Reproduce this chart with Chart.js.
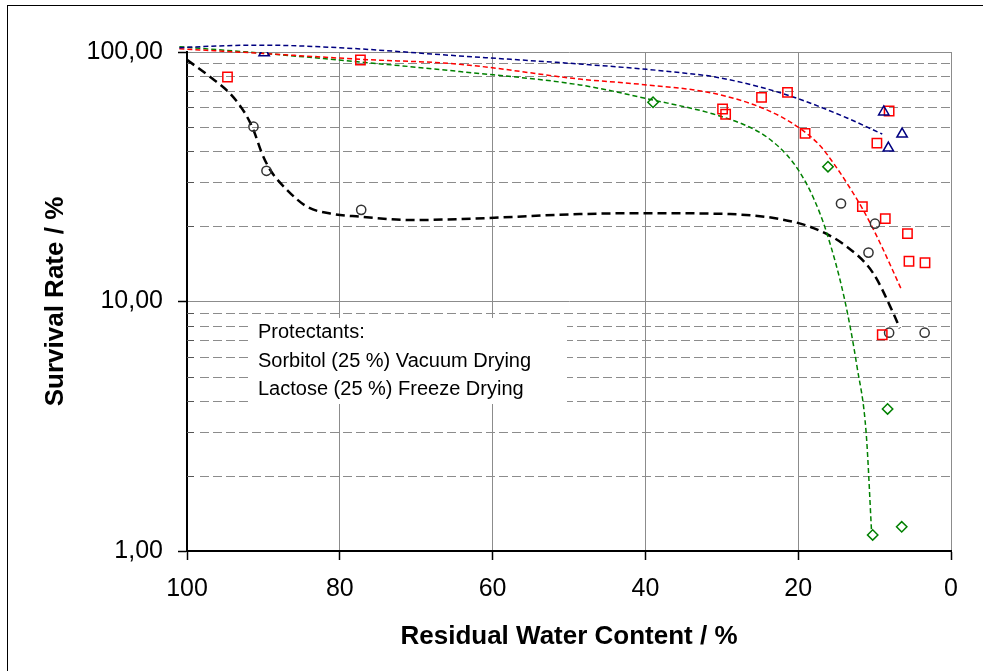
<!DOCTYPE html>
<html>
<head>
<meta charset="utf-8">
<script src="https://cdn.jsdelivr.net/npm/chart.js@4.4.0/dist/chart.umd.min.js"></script>
<style>
  body { margin: 0; background: #fff; }
  canvas { display: block; }
</style>
</head>
<body>
<canvas id="chart" width="983" height="671"></canvas>
<script>
// Measured points (residual water %, survival %)
const triangleX = [89.9, 8.8, 6.4, 8.2];
const triangleY = [99.3, 57.5, 46.9, 41.2];

const squareX = [94.7, 77.3, 29.9, 29.5, 24.8, 21.4, 19.1, 8.1, 9.7, 11.6, 8.6, 5.7, 5.5, 3.4, 9.0];
const squareY = [79.4, 92.9, 59.1, 56.3, 65.8, 68.9, 47.2, 58.0, 43.1, 24.0, 21.5, 18.7, 14.5, 14.3, 7.36];

const diamondX = [39.0, 16.1, 8.3, 6.45, 10.25];
const diamondY = [62.9, 34.7, 3.71, 1.25, 1.16];

const circleX = [91.3, 89.6, 77.2, 14.4, 9.95, 10.8, 8.1, 3.45];
const circleY = [50.2, 33.4, 23.3, 24.7, 20.5, 15.7, 7.50, 7.50];

// Trend lines
const blueFitX = [101, 95, 90, 80, 64.3, 48.6, 39.8, 35, 31.1, 25, 19.9, 13.6, 9.0];
const blueFitY = [104, 106, 106.5, 104, 96.4, 89.5, 85.2, 82.4, 79.6, 72.4, 64.8, 54.4, 46.9];

const redFitX = [101, 90.4, 77.3, 64.3, 48.6, 39.8, 31.1, 24.1, 19.85, 17.1, 15.4, 13.65, 11.5, 9.3, 6.45];
const redFitY = [103, 98.8, 93.5, 89.3, 77.9, 73.8, 68.3, 58.6, 49.6, 42.0, 35.9, 29.9, 23.3, 17.2, 11.1];

const greenFitX = [101, 90.4, 77.3, 64.3, 48.6, 39.0, 31.1, 26.7, 24.1, 21.5, 19.8, 18.0, 16.3, 13.9, 12.3, 11.1, 10.4];
const greenFitY = [105, 99, 91.2, 83.5, 73.8, 64.2, 56.4, 50.5, 45.6, 38.7, 33.0, 26.0, 19.0, 10.1, 5.48, 2.96, 1.2];

const blackFitX = [100, 97.0, 94.4, 92.4, 91.3, 90.2, 89.1, 86.9, 84.3, 80.8, 77.4, 70.8, 64.3, 48.6, 39.8, 28.9, 22.4, 18.0, 13.65, 10.2, 7.55, 6.7];
const blackFitY = [93, 79.6, 68.3, 56.8, 48.7, 39.3, 33.65, 28.0, 24.0, 22.4, 21.9, 21.2, 21.4, 22.4, 22.6, 22.4, 21.4, 19.7, 16.6, 13.0, 8.97, 7.81];

// Axis ticks
const xTickStep = 20;
const yMajorTicks = [1, 10, 100];
const yMinorTicks = [2, 3, 4, 5, 6, 7, 8, 9, 20, 30, 40, 50, 60, 70, 80, 90];

const noteLines = ['Protectants:', 'Sorbitol (25 %) Vacuum Drying', 'Lactose (25 %) Freeze Drying'];

const fontFamily = '"Liberation Sans", Arial, sans-serif';
const gridGray = '#8c8c8c';

function toPoints(xs, ys) {
  return xs.map((x, i) => ({ x: x, y: ys[i] }));
}

function markerSet(xs, ys, style, color, radius) {
  return {
    data: toPoints(xs, ys),
    showLine: false,
    pointStyle: style,
    pointRadius: radius,
    pointBorderColor: color,
    pointBackgroundColor: 'transparent',
    pointBorderWidth: 1.5,
    order: 0
  };
}

function fitSet(xs, ys, color, width, dash) {
  return {
    data: toPoints(xs, ys),
    showLine: true,
    pointRadius: 0,
    borderColor: color,
    borderWidth: width,
    borderDash: dash,
    tension: 0.4,
    cubicInterpolationMode: 'monotone',
    fill: false,
    clip: false,
    order: 1
  };
}

// Background, outer frame, minor gridlines and the note box
const chartExtras = {
  id: 'chartExtras',
  beforeDraw(chart) {
    const c = chart.ctx;
    c.save();
    c.fillStyle = '#fff';
    c.fillRect(0, 0, chart.width, chart.height);
    c.strokeStyle = '#000';
    c.lineWidth = 1;
    c.strokeRect(7.5, 5.5, chart.width + 20, chart.height + 20);
    c.restore();
  },
  beforeDatasetsDraw(chart) {
    const c = chart.ctx;
    const area = chart.chartArea;
    const yScale = chart.scales.y;
    c.save();
    c.lineWidth = 1;
    yMinorTicks.forEach(v => {
      const py = Math.round(yScale.getPixelForValue(v)) + 0.5;
      c.setLineDash([]);
      c.strokeStyle = '#555';
      c.beginPath();
      c.moveTo(area.left, py);
      c.lineTo(area.left + 7, py);
      c.stroke();
      c.setLineDash([9, 4]);
      c.strokeStyle = gridGray;
      c.beginPath();
      c.moveTo(area.left + 13, py);
      c.lineTo(area.right, py);
      c.stroke();
    });
    c.setLineDash([]);
    c.fillStyle = '#fff';
    c.fillRect(area.left + 64, 318, 316, 86);
    c.fillStyle = '#000';
    c.font = '20px ' + fontFamily;
    c.textBaseline = 'alphabetic';
    noteLines.forEach((t, i) => c.fillText(t, area.left + 71, 338 + i * 28.5));
    c.restore();
  }
};

Chart.defaults.font.family = fontFamily;
Chart.defaults.color = '#000';

new Chart(document.getElementById('chart'), {
  type: 'scatter',
  data: {
    datasets: [
      markerSet(triangleX, triangleY, 'triangle', '#000080', 6),
      markerSet(squareX, squareY, 'rect', '#ff0000', 6.6),
      markerSet(diamondX, diamondY, 'rectRot', '#008000', 5.2),
      markerSet(circleX, circleY, 'circle', '#333333', 4.6),
      fitSet(blueFitX, blueFitY, '#000080', 1.5, [5, 3]),
      fitSet(redFitX, redFitY, '#ff0000', 1.5, [5, 3]),
      fitSet(greenFitX, greenFitY, '#008000', 1.5, [5, 3]),
      fitSet(blackFitX, blackFitY, '#000000', 2.5, [9, 5])
    ]
  },
  options: {
    responsive: false,
    animation: false,
    layout: { padding: { left: 0, top: 52, right: 32, bottom: 0 } },
    plugins: {
      legend: { display: false },
      tooltip: { enabled: false }
    },
    scales: {
      x: {
        type: 'linear',
        reverse: true,
        min: 0,
        max: 100,
        ticks: { stepSize: xTickStep, font: { size: 25 }, padding: 14, color: '#000' },
        grid: { color: gridGray, lineWidth: 1, tickColor: '#000', tickLength: 9, tickWidth: 1.5 },
        border: { color: '#000', width: 2 },
        title: {
          display: true,
          text: 'Residual Water Content / %',
          color: '#000',
          font: { size: 26, weight: 'bold' },
          padding: { top: 0, bottom: 19 }
        },
        afterFit: s => { s.height = 120; }
      },
      y: {
        type: 'logarithmic',
        min: 1,
        max: 100,
        afterBuildTicks: s => { s.ticks = yMajorTicks.map(v => ({ value: v })); },
        ticks: {
          font: { size: 25 },
          padding: 15,
          color: '#000',
          callback: v => Number(v).toFixed(2).replace('.', ',')
        },
        grid: { color: gridGray, lineWidth: 1, tickColor: '#000', tickLength: 9, tickWidth: 1.5 },
        border: { color: '#000', width: 2 },
        title: {
          display: true,
          text: 'Survival Rate / %',
          color: '#000',
          font: { size: 26, weight: 'bold' },
          padding: { top: 40, bottom: 0 }
        },
        afterFit: s => { s.width = 187; }
      }
    }
  },
  plugins: [chartExtras]
});
</script>
</body>
</html>
